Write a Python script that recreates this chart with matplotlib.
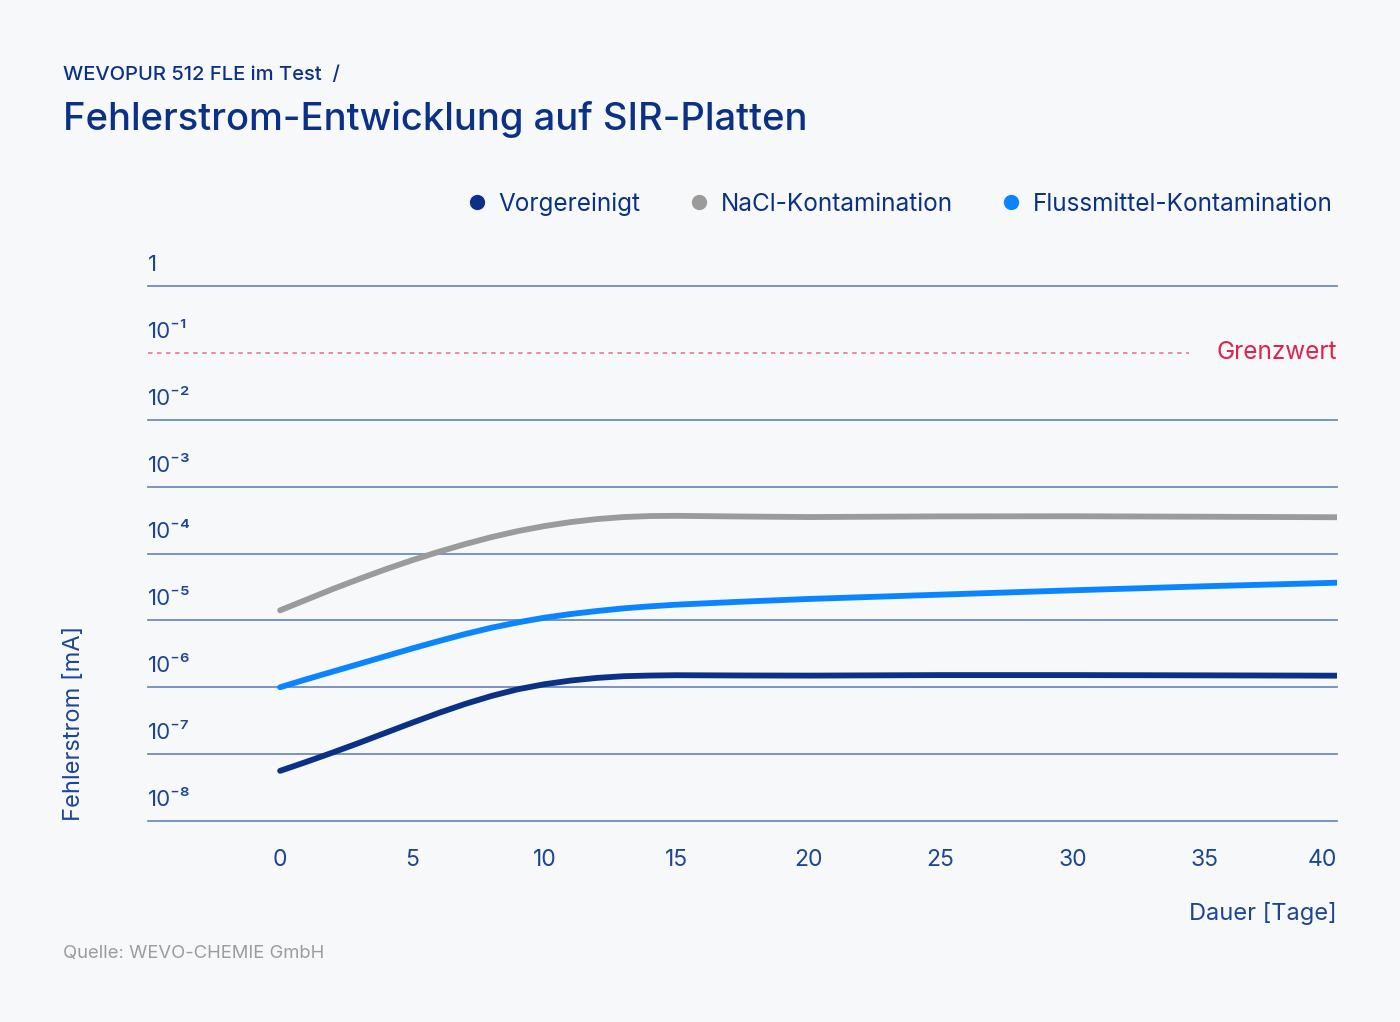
import numpy as np
import matplotlib
matplotlib.use("Agg")
import matplotlib.pyplot as plt
from matplotlib.lines import Line2D

plt.rcParams['font.family'] = ['Inter', 'DejaVu Sans']

# Dauer in Tagen
days = [0, 1, 2, 3, 4, 5, 6, 7, 8, 9, 10, 11, 12, 13, 14, 15, 17.5, 20, 25, 30, 35, 40]

# log10 of Fehlerstrom in mA
vorgereinigt_log = [-7.25, -7.115, -6.975, -6.83, -6.68, -6.53, -6.385, -6.25, -6.13, -6.03,
                    -5.955, -5.90, -5.86, -5.835, -5.825, -5.82, -5.824, -5.826, -5.818,
                    -5.818, -5.822, -5.827]
nacl_log = [-4.85, -4.69, -4.53, -4.38, -4.235, -4.10, -3.975, -3.86, -3.755, -3.665,
            -3.59, -3.53, -3.485, -3.455, -3.44, -3.437, -3.447, -3.455, -3.445,
            -3.443, -3.45, -3.458]
fluss_log = [-6.0, -5.88, -5.765, -5.65, -5.535, -5.42, -5.31, -5.205, -5.11, -5.03,
             -4.96, -4.905, -4.86, -4.82, -4.79, -4.765, -4.72, -4.68, -4.615,
             -4.55, -4.49, -4.437]

series_names = ['Vorgereinigt', 'NaCl-Kontamination', 'Flussmittel-Kontamination']
series_colors = ['#0b3186', '#9b9b9b', '#0a84ff']

grenzwert = 1e-1
y_ticks = [1, 1e-1, 1e-2, 1e-3, 1e-4, 1e-5, 1e-6, 1e-7, 1e-8]
y_tick_labels = ['1', '10⁻¹', '10⁻²', '10⁻³', '10⁻⁴', '10⁻⁵', '10⁻⁶', '10⁻⁷', '10⁻⁸']
x_ticks = [0, 5, 10, 15, 20, 25, 30, 35, 40]

navy = '#0b3186'
tick_col = '#1d4596'
grid_col = '#6f8bbd'
bg = '#f7f8fa'

fig = plt.figure(figsize=(14, 10.22), dpi=100, facecolor=bg)
ax = fig.add_axes([148/1400, 1-821/1022, (1337-148)/1400, (821-286)/1022])
ax.set_facecolor(bg)
ax.set_yscale('log')
ax.set_xlim(-5, 40)
ax.set_ylim(1e-8, 1)

# horizontal grid, 10^-1 is replaced by the Grenzwert line
for t in y_ticks:
    if t == grenzwert:
        continue
    ax.axhline(t, color=grid_col, lw=1.3, zorder=1, clip_on=False)
ax.plot([-5, 34.4], [grenzwert, grenzwert], color='#ef8098', lw=1.3,
        ls=(0, (2.5, 2.5)), zorder=1)
ax.text(40, grenzwert, 'Grenzwert', color='#e0224c', fontsize=17.5,
        ha='right', va='center')

for vals, col in zip([vorgereinigt_log, nacl_log, fluss_log], series_colors):
    ax.plot(days, np.power(10.0, vals), color=col, lw=4.2,
            solid_capstyle='round', solid_joinstyle='round', zorder=3)

for spine in ax.spines.values():
    spine.set_visible(False)

ax.set_yticks([])
ax.minorticks_off()
for t, lab in zip(y_ticks, y_tick_labels):
    ax.annotate(lab, xy=(-5, t), xytext=(0, 8), textcoords='offset points',
                ha='left', va='bottom', fontsize=16, color=tick_col)

ax.set_xticks(x_ticks)
ax.set_xticklabels([str(x) for x in x_ticks])
ax.tick_params(axis='x', length=0, pad=20, labelsize=16.5, labelcolor=tick_col)
ax.get_xticklabels()[-1].set_horizontalalignment('right')
ax.get_xticklabels()[-1].set_x(40.6)

handles = [Line2D([], [], ls='none', marker='o', markersize=10,
                  markerfacecolor=c, markeredgecolor=c) for c in series_colors]
leg = ax.legend(handles, series_names, ncol=3, frameon=False,
                loc='lower right', bbox_to_anchor=(1.005, 1.113),
                fontsize=17.5, handletextpad=0.4, columnspacing=1.9,
                borderaxespad=0, handlelength=1.0)
for txt in leg.get_texts():
    txt.set_color(navy)

fig.text(63/1400, 1-75/1022, 'WEVOPUR 512 FLE im Test  /', fontsize=14.5,
         color=navy, ha='left', va='center', fontweight='medium')
fig.text(63/1400, 1-119/1022, 'Fehlerstrom-Entwicklung auf SIR-Platten',
         fontsize=27.5, color=navy, ha='left', va='center', fontweight='medium')
fig.text(74/1400, 1-821/1022, 'Fehlerstrom [mA]', rotation=90, fontsize=17,
         color=tick_col, ha='center', va='bottom')
fig.text(1337/1400, 1-913/1022, 'Dauer [Tage]', fontsize=17, color=tick_col,
         ha='right', va='center')
fig.text(63/1400, 1-953/1022, 'Quelle: WEVO-CHEMIE GmbH', fontsize=13.3,
         color='#9c9c9c', ha='left', va='center')

fig.savefig('out.png', dpi=100, facecolor=bg)
